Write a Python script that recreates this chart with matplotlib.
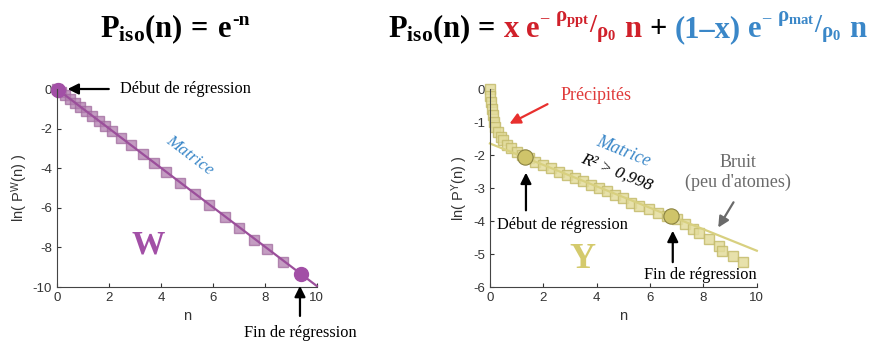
import matplotlib
matplotlib.use("Agg")
import matplotlib.pyplot as plt

# W: isotropic decay, ln P vs n
w_n = [0.0, 0.15, 0.3, 0.5, 0.7, 0.9, 1.1, 1.35, 1.6, 1.85, 2.1, 2.45, 2.85, 3.3, 3.75,
       4.2, 4.75, 5.3, 5.85, 6.45, 7.0, 7.6, 8.1, 8.7]
w_lnp = [0.0, -0.15, -0.3, -0.5, -0.7, -0.9, -1.1, -1.35, -1.6, -1.85, -2.1, -2.45, -2.85,
         -3.3, -3.75, -4.2, -4.75, -5.3, -5.85, -6.45, -7.0, -7.6, -8.1, -8.75]
w_fit_n = [0.0, 10.0]
w_fit = [0.0, -9.95]
w_reg_n = [0.05, 9.4]
w_reg = [-0.05, -9.35]

# Y: precipitates + matrix
y_n = [0.0, 0.0, 0.03, 0.06, 0.1, 0.15, 0.2, 0.3, 0.4, 0.5, 0.65, 0.8, 1.0, 1.2, 1.45, 1.7,
       2.0, 2.3, 2.6, 2.9, 3.2, 3.5, 3.8, 4.1, 4.4, 4.7, 5.0, 5.3, 5.6, 5.95, 6.3, 6.65,
       7.0, 7.3, 7.6, 7.85, 8.2, 8.6, 8.7, 9.1, 9.5]
y_lnp = [0.0, -0.2, -0.4, -0.6, -0.8, -1.0, -1.15, -1.3, -1.45, -1.55, -1.7, -1.8, -1.9,
         -2.0, -2.1, -2.2, -2.3, -2.4, -2.5, -2.6, -2.7, -2.8, -2.9, -3.0, -3.1, -3.2, -3.3,
         -3.45, -3.55, -3.65, -3.75, -3.85, -3.95, -4.1, -4.25, -4.35, -4.55, -4.75, -4.9,
         -5.05, -5.25]
y_fit_n = [0.0, 10.0]
y_fit = [-1.65, -4.9]
y_reg_n = [1.3, 6.8]
y_reg = [-2.05, -3.85]

xticks = [0, 2, 4, 6, 8, 10]

plt.rcParams["font.family"] = ["Liberation Sans", "DejaVu Sans"]
plt.rcParams["axes.unicode_minus"] = False
plt.rcParams["mathtext.fontset"] = "custom"
plt.rcParams["mathtext.rm"] = "Liberation Serif:bold"
plt.rcParams["mathtext.it"] = "Liberation Serif:italic:bold"
plt.rcParams["mathtext.bf"] = "Liberation Serif:bold"
plt.rcParams["mathtext.sf"] = "Liberation Sans"

SERIF = ["Liberation Serif", "DejaVu Serif"]
RED = "#d0202a"
BLUE = "#3a87c8"

fig = plt.figure(figsize=(8.78, 3.45), dpi=100)
ax1 = fig.add_axes([0.0649, 0.168, 0.296, 0.574])
ax2 = fig.add_axes([0.558, 0.168, 0.304, 0.574])


def style(ax, ylim, yticks, ylabel):
    ax.set_xlim(0, 10)
    ax.set_ylim(*ylim)
    ax.set_xticks(xticks)
    ax.set_yticks(yticks)
    for s in ["top", "right"]:
        ax.spines[s].set_visible(False)
    for s in ["left", "bottom"]:
        ax.spines[s].set_color("#444444")
    ax.tick_params(direction="in", length=3, labelsize=9.5, colors="#333333")
    ax.set_xlabel("n", fontsize=10.5, color="#333333", labelpad=4)
    ax.set_ylabel(ylabel, fontsize=10.5, color="#333333", labelpad=2)
    ax.patch.set_alpha(0)


# ---- W panel
ax1.plot(w_n, w_lnp, "s", ms=7, mfc="#b17cae", mec="#a06a9e", alpha=0.75, clip_on=False)
ax1.plot(w_fit_n, w_fit, color="#9b4f9b", lw=1.6, clip_on=False)
ax1.plot(w_reg_n, w_reg, "o", ms=10, color="#a24fa6", clip_on=False)
style(ax1, (-10, 0), [0, -2, -4, -6, -8, -10], r"ln( P$^{\mathsf{W}}$(n) )")

arrow = dict(arrowstyle="-|>", color="black", lw=1.6, mutation_scale=16)
ax1.annotate("", xy=(0.3, 0.0), xytext=(2.1, 0.0), arrowprops=arrow, annotation_clip=False)
ax1.text(2.42, 0.0, "Début de régression", family=SERIF, fontsize=11.8, va="center")
ax1.annotate("", xy=(9.35, -9.8), xytext=(9.35, -11.6), arrowprops=arrow, annotation_clip=False)
ax1.text(9.35, -12.3, "Fin de régression", family=SERIF, fontsize=11.8, ha="center", va="center")
ax1.text(5.1, -3.35, "Matrice", family=SERIF, style="italic", fontsize=12.5, color=BLUE,
         rotation=-37, ha="center", va="center")
ax1.text(3.5, -7.9, "W", family=SERIF, weight="bold", fontsize=24, color="#a24fa6",
         ha="center", va="center")

# ---- Y panel
ax2.plot(y_n, y_lnp, "s", ms=7.5, mfc="#e3dc9c", mec="#c4bb6c", alpha=0.85, clip_on=False)
ax2.plot(y_fit_n, y_fit, color="#d8d080", lw=1.6, clip_on=False)
ax2.plot(y_reg_n, y_reg, "o", ms=11, mfc="#cfc46a", mec="#8a8240", mew=0.8, clip_on=False)
style(ax2, (-6, 0), [0, -1, -2, -3, -4, -5, -6], r"ln( P$^{\mathsf{Y}}$(n) )")

ax2.text(3.97, -0.21, "Précipités", family=SERIF, fontsize=13, color="#e03a3a",
         ha="center", va="center")
ax2.annotate("", xy=(0.64, -1.09), xytext=(2.25, -0.42), annotation_clip=False,
             arrowprops=dict(arrowstyle="-|>", color="#e8302e", lw=1.6, mutation_scale=16))
ax2.text(4.98, -1.88, "Matrice", family=SERIF, style="italic", fontsize=13, color=BLUE,
         rotation=-22, ha="center", va="center")
ax2.text(4.76, -2.52, "R² > 0,998", family=SERIF, style="italic", fontsize=12.5, color="black",
         rotation=-22, ha="center", va="center")
ax2.text(9.29, -2.53, "Bruit\n(peu d'atomes)", family=SERIF, fontsize=13, color="#6a6a6a",
         ha="center", va="center", linespacing=1.2)
ax2.annotate("", xy=(8.5, -4.27), xytext=(9.18, -3.36), annotation_clip=False,
             arrowprops=dict(arrowstyle="-|>", color="#6a6a6a", lw=1.6, mutation_scale=16))
ax2.annotate("", xy=(1.35, -2.45), xytext=(1.35, -3.76), arrowprops=arrow, annotation_clip=False)
ax2.text(2.73, -4.12, "Début de régression", family=SERIF, fontsize=11.8, ha="center", va="center")
ax2.annotate("", xy=(6.85, -4.21), xytext=(6.85, -5.33), arrowprops=arrow, annotation_clip=False)
ax2.text(7.87, -5.64, "Fin de régression", family=SERIF, fontsize=11.8, ha="center", va="center")
ax2.text(3.48, -5.18, "Y", family=SERIF, weight="bold", fontsize=26, color="#d4ca6c",
         ha="center", va="center")

# ---- formulas: pieces chained left to right (text, colour, size, raise px, gap px)
renderer = fig.canvas.get_renderer()
W, H = fig.bbox.width, fig.bbox.height


def chain(x_px, base_px, pieces):
    for txt, col, size, dy, gap in pieces:
        x_px += gap
        t = fig.text(x_px / W, (H - base_px + dy) / H, txt, fontsize=size, color=col,
                     va="baseline", family=SERIF, weight="bold")
        x_px = t.get_window_extent(renderer).x1


chain(100, 37, [
    (r"P$_{\mathrm{iso}}$(n)", "black", 22, 0, 0),
    ("=", "black", 22, 0, 8),
    ("e", "black", 22, 0, 10),
    ("-n", "black", 14, 12, 1),
])
chain(388, 37, [
    (r"P$_{\mathrm{iso}}$(n)", "black", 22, 0, 0),
    ("=", "black", 22, 0, 7),
    ("x", RED, 22, 0, 9),
    ("e", RED, 22, 0, 7),
    ("\u2013", RED, 12, 15, 1),
    (r"ρ$_{\mathrm{ppt}}$", RED, 15, 16, 6),
    ("/", RED, 18, 5, 0),
    (r"ρ$_{\mathrm{0}}$", RED, 15, 0, 0),
    ("n", RED, 22, 0, 8),
    ("+", "black", 22, 0, 8),
    ("(1\u2013x)", BLUE, 22, 0, 8),
    ("e", BLUE, 22, 0, 7),
    ("\u2013", BLUE, 12, 15, 1),
    (r"ρ$_{\mathrm{mat}}$", BLUE, 15, 16, 6),
    ("/", BLUE, 18, 5, 0),
    (r"ρ$_{\mathrm{0}}$", BLUE, 15, 0, 0),
    ("n", BLUE, 22, 0, 8),
])

fig.savefig("out.png", dpi=100)
